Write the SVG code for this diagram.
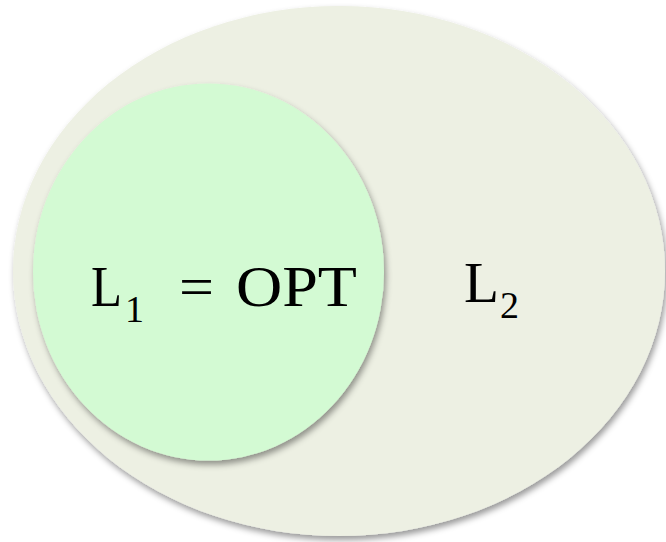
<svg xmlns="http://www.w3.org/2000/svg" width="666" height="542" viewBox="0 0 666 542">
<defs>
<filter id="sh" x="-10%" y="-10%" width="125%" height="125%">
<feDropShadow dx="2" dy="4" stdDeviation="3" flood-color="#000" flood-opacity="0.4"/>
</filter>
</defs>
<style>
text{font-family:'Liberation Serif',serif;fill:#000}
.big{font-size:58px}
.sub{font-size:38px}
</style>
<rect width="666" height="542" fill="#fff"/>
<g id="L2">
<ellipse cx="339" cy="271" rx="326" ry="265" fill="#EDF0E3" filter="url(#sh)"/>
<text class="big" x="464" y="302" textLength="35" lengthAdjust="spacingAndGlyphs">L</text>
<text class="sub" x="500" y="318">2</text>
</g>
<g id="L1">
<ellipse cx="208.5" cy="272" rx="175.5" ry="188.5" fill="#D3FAD3" filter="url(#sh)"/>
<text class="big" x="91" y="306" textLength="31" lengthAdjust="spacingAndGlyphs">L</text>
<text class="sub" x="125" y="322">1</text>
<text class="big" x="179" y="306" textLength="35" lengthAdjust="spacingAndGlyphs">=</text>
<text class="big" x="236" y="306" textLength="121" lengthAdjust="spacingAndGlyphs">OPT</text>
</g>
<g id="connectors"/>
</svg>
